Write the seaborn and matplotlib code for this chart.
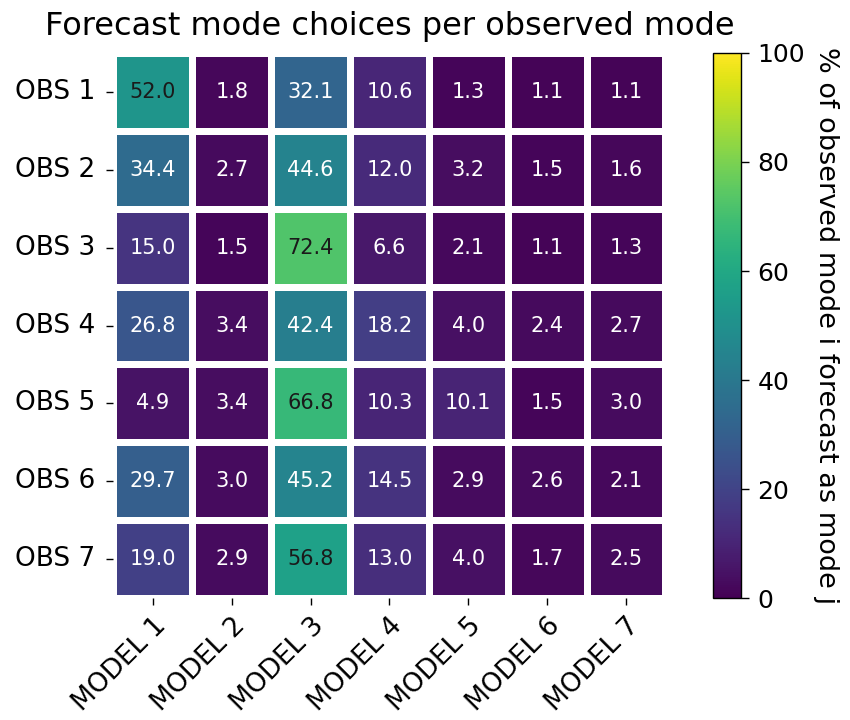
import matplotlib
matplotlib.use("Agg")
import matplotlib.pyplot as plt
import seaborn as sns
import numpy as np
import pandas as pd

row_labels = ["OBS 1", "OBS 2", "OBS 3", "OBS 4", "OBS 5", "OBS 6", "OBS 7"]
col_labels = ["MODEL 1", "MODEL 2", "MODEL 3", "MODEL 4", "MODEL 5", "MODEL 6", "MODEL 7"]
obs1 = [52.0, 1.8, 32.1, 10.6, 1.3, 1.1, 1.1]
obs2 = [34.4, 2.7, 44.6, 12.0, 3.2, 1.5, 1.6]
obs3 = [15.0, 1.5, 72.4, 6.6, 2.1, 1.1, 1.3]
obs4 = [26.8, 3.4, 42.4, 18.2, 4.0, 2.4, 2.7]
obs5 = [4.9, 3.4, 66.8, 10.3, 10.1, 1.5, 3.0]
obs6 = [29.7, 3.0, 45.2, 14.5, 2.9, 2.6, 2.1]
obs7 = [19.0, 2.9, 56.8, 13.0, 4.0, 1.7, 2.5]

df = pd.DataFrame([obs1, obs2, obs3, obs4, obs5, obs6, obs7],
                  index=row_labels, columns=col_labels)

fig = plt.figure(figsize=(8.5, 7.2), dpi=100)
ax = fig.add_axes([0.1335, 0.1701, 0.6494, 0.7556])
cax = fig.add_axes([0.8388, 0.1694, 0.0329, 0.757])

sns.heatmap(df, ax=ax, cbar_ax=cax, cmap="viridis", vmin=0, vmax=100,
            annot=True, fmt=".1f", annot_kws={"fontsize": 15},
            linewidths=5, linecolor="white",
            cbar_kws={"label": "% of observed mode i forecast as mode j"})

for t in ax.texts:
    t.set_color(".1" if float(t.get_text()) >= 50 else "w")

cbar = ax.collections[0].colorbar
cbar.outline.set_visible(True)
cbar.outline.set_linewidth(1.0)
cbar.outline.set_edgecolor("black")

ax.set_title("Forecast mode choices per observed mode", fontsize=23, pad=13)
ax.set_xticklabels(col_labels, rotation=45, ha="right", rotation_mode="anchor", fontsize=19)
ax.set_yticklabels(row_labels, rotation=0, fontsize=19)
ax.tick_params(axis="y", length=5, width=1, pad=8)
ax.tick_params(axis="x", length=5, width=1, pad=6)
cax.tick_params(labelsize=18, length=6, width=1, pad=6)
cax.set_ylabel("% of observed mode i forecast as mode j", rotation=270, labelpad=24, fontsize=19.5)

fig.savefig("out.png", dpi=100)
